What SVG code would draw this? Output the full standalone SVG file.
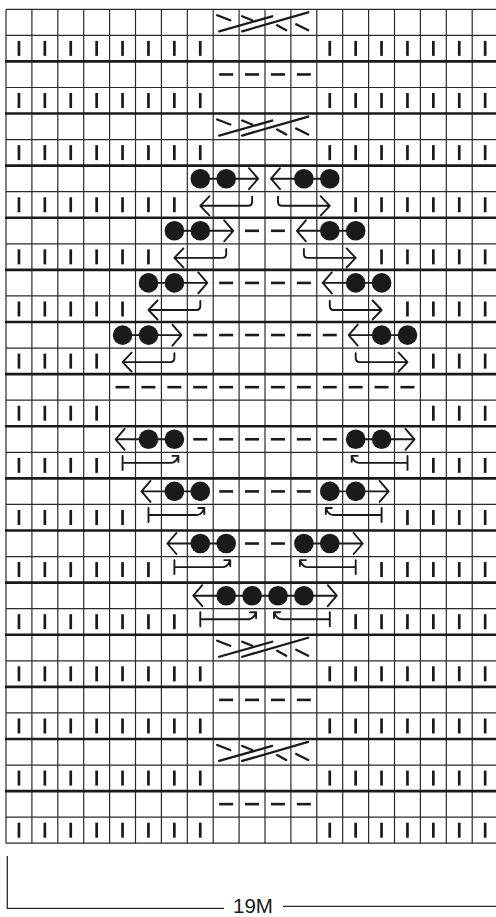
<svg xmlns="http://www.w3.org/2000/svg" xmlns:xlink="http://www.w3.org/1999/xlink" width="496" height="917" viewBox="0 0 496 917">
<style>
.thin{stroke:#2b2b2b;stroke-width:1.2;fill:none}
.thick{stroke:#1a1a1a;stroke-width:2.6;fill:none}
.tk{stroke:#1a1a1a;stroke-width:2.7;stroke-linecap:butt;fill:none}
.ds{stroke:#1a1a1a;stroke-width:2.6;fill:none}
.cb{stroke:#1a1a1a;stroke-width:2.3;stroke-linecap:round;fill:none}
.ar{stroke:#1a1a1a;stroke-width:1.9;fill:none;stroke-linecap:round;stroke-linejoin:round}
.dot{fill:#1a1a1a;stroke:none}
.lbl{font-family:"Liberation Sans",Arial,sans-serif;fill:#1a1a1a}
</style>
<defs>
<line id="t" x1="0" y1="-7.5" x2="0" y2="7.5"/>
<line id="m" x1="-7" y1="0" x2="7" y2="0"/>
<g id="k4"><use href="#t" x="18.95"/><use href="#t" x="44.85"/><use href="#t" x="70.75"/><use href="#t" x="96.65"/><use href="#t" x="433.35"/><use href="#t" x="459.25"/><use href="#t" x="485.15"/></g>
<g id="k5"><use href="#k4"/><use href="#t" x="122.55"/><use href="#t" x="407.45"/></g>
<g id="k6"><use href="#k5"/><use href="#t" x="148.45"/><use href="#t" x="381.55"/></g>
<g id="k7"><use href="#k6"/><use href="#t" x="174.35"/><use href="#t" x="355.65"/></g>
<g id="kf"><use href="#k7"/><use href="#t" x="200.25"/><use href="#t" x="329.75"/></g>
<g id="d2"><use href="#m" x="252.05"/><use href="#m" x="277.95"/></g>
<g id="d4"><use href="#d2"/><use href="#m" x="226.15"/><use href="#m" x="303.85"/></g>
<g id="d6"><use href="#d4"/><use href="#m" x="200.25"/><use href="#m" x="329.75"/></g>
<g id="cab"><path d="M217.2 6L230.2 11M219.2 22L272.2 7M242.2 7L252.2 11M242.2 22L308.2 3M277.2 16L286.2 21M296.2 15L308.2 21"/></g>
</defs>
<rect width="496" height="917" fill="#fff"/>
<g id="grid">
<path class="thin" d="M6 9.3V843.2M31.9 9.3V843.2M57.8 9.3V843.2M83.7 9.3V843.2M109.6 9.3V843.2M135.5 9.3V843.2M161.4 9.3V843.2M187.3 9.3V843.2M213.2 9.3V843.2M239.1 9.3V843.2M265 9.3V843.2M290.9 9.3V843.2M316.8 9.3V843.2M342.7 9.3V843.2M368.6 9.3V843.2M394.5 9.3V843.2M420.4 9.3V843.2M446.3 9.3V843.2M472.2 9.3V843.2"/>
<path class="thin" d="M6 9.3H498M6 35.36H498M6 87.48H498M6 139.6H498M6 191.72H498M6 243.84H498M6 295.96H498M6 348.08H498M6 400.2H498M6 452.32H498M6 504.44H498M6 556.56H498M6 608.68H498M6 660.8H498M6 712.92H498M6 765.04H498M6 817.16H498M6 843.22H498"/>
<path class="thick" d="M5 61.42H498M5 113.54H498M5 165.66H498M5 217.78H498M5 269.9H498M5 322.02H498M5 374.14H498M5 426.26H498M5 478.38H498M5 530.5H498M5 582.62H498M5 634.74H498M5 686.86H498M5 738.98H498M5 791.1H498"/>
</g>
<g id="knit-marks" class="tk">
<use href="#kf" y="48.39"/><use href="#kf" y="100.51"/><use href="#kf" y="152.63"/>
<use href="#k7" y="204.75"/><use href="#k6" y="256.87"/><use href="#k5" y="308.99"/><use href="#k4" y="361.11"/>
<use href="#k4" y="413.23"/>
<use href="#k4" y="465.35"/><use href="#k5" y="517.47"/><use href="#k6" y="569.59"/><use href="#k7" y="621.71"/>
<use href="#kf" y="673.83"/><use href="#kf" y="725.95"/><use href="#kf" y="778.07"/><use href="#kf" y="830.19"/>
</g>
<g id="purl-marks" class="ds">
<use href="#d4" y="74.45"/>
<use href="#d2" y="230.81"/><use href="#d4" y="282.93"/><use href="#d6" y="335.05"/>
<g transform="translate(0 387.17)"><use href="#d6"/><use href="#m" x="122.55"/><use href="#m" x="148.45"/><use href="#m" x="174.35"/><use href="#m" x="355.65"/><use href="#m" x="381.55"/><use href="#m" x="407.45"/></g>
<use href="#d6" y="439.29"/><use href="#d4" y="491.41"/><use href="#d2" y="543.53"/>
<use href="#d4" y="699.89"/><use href="#d4" y="804.13"/>
</g>
<g id="cables" class="cb">
<use href="#cab" y="9.3"/><use href="#cab" y="113.54"/><use href="#cab" y="634.74"/><use href="#cab" y="738.98"/>
</g>
<g id="connectors" class="ar">
<path d="M200.3 178.7H258.1M249 168.2L258.1 178.7L249 189.2M271 178.7H329.8M280 168.2L271 178.7L280 189.2"/>
<path d="M174.4 230.8H233.2M224.2 220.3L233.2 230.8L224.2 241.3M296.9 230.8H355.7M305.9 220.3L296.9 230.8L305.9 241.3"/>
<path d="M148.5 282.9H207.3M198.3 272.4L207.3 282.9L198.3 293.4M322.8 282.9H381.6M331.8 272.4L322.8 282.9L331.8 293.4"/>
<path d="M122.6 335.1H181.4M172.4 324.6L181.4 335.1L172.4 345.6M348.7 335.1H407.5M357.7 324.6L348.7 335.1L357.7 345.6"/>
<path d="M115.6 439.3H174.4M124.6 428.8L115.6 439.3L124.6 449.8M355.7 439.3H414.5M405.5 428.8L414.5 439.3L405.5 449.8"/>
<path d="M141.5 491.4H200.3M150.5 480.9L141.5 491.4L150.5 501.9M329.8 491.4H388.6M379.6 480.9L388.6 491.4L379.6 501.9"/>
<path d="M167.4 543.5H226.2M176.4 533L167.4 543.5L176.4 554M303.9 543.5H362.7M353.7 533L362.7 543.5L353.7 554"/>
<path d="M193.3 595.7H336.8M202.3 585.2L193.3 595.7L202.3 606.2M327.8 585.2L336.8 595.7L327.8 606.2"/>
<path d="M200.3 205.8H248.1Q252.1 205.8 252.1 201.8V196.8M209.3 196.3L200.3 205.8L209.3 215.3M278 196.8V201.8Q278 205.8 282 205.8H329.8M320.8 196.3L329.8 205.8L320.8 215.3"/>
<path d="M174.4 257.9H222.2Q226.2 257.9 226.2 253.9V248.9M183.4 248.4L174.4 257.9L183.4 267.4M303.9 248.9V253.9Q303.9 257.9 307.9 257.9H355.7M346.7 248.4L355.7 257.9L346.7 267.4"/>
<path d="M148.5 310H196.3Q200.3 310 200.3 306V301M157.5 300.5L148.5 310L157.5 319.5M329.8 301V306Q329.8 310 333.8 310H381.6M372.6 300.5L381.6 310L372.6 319.5"/>
<path d="M122.6 362.1H170.4Q174.4 362.1 174.4 358.1V353.1M131.6 352.6L122.6 362.1L131.6 371.6M355.7 353.1V358.1Q355.7 362.1 359.7 362.1H407.5M398.5 352.6L407.5 362.1L398.5 371.6"/>
<path d="M122.6 455.9V469.9M122.6 462.9H170.4Q175.4 462.9 177.4 457.9M172.4 455.9L178.4 455.9L178.4 461.9M407.5 455.9V469.9M407.5 462.9H359.7Q354.7 462.9 352.7 457.9M357.7 455.9L351.7 455.9L351.7 461.9"/>
<path d="M148.5 508V522M148.5 515H196.3Q201.3 515 203.3 510M198.3 508L204.3 508L204.3 514M381.6 508V522M381.6 515H333.8Q328.8 515 326.8 510M331.8 508L325.8 508L325.8 514"/>
<path d="M174.4 560.1V574.1M174.4 567.1H222.2Q227.2 567.1 229.2 562.1M224.2 560.1L230.2 560.1L230.2 566.1M355.7 560.1V574.1M355.7 567.1H307.9Q302.9 567.1 300.9 562.1M305.9 560.1L299.9 560.1L299.9 566.1"/>
<path d="M200.3 612.2V626.2M200.3 619.2H248.1Q253.1 619.2 255.1 614.2M250.1 612.2L256.1 612.2L256.1 618.2M329.8 612.2V626.2M329.8 619.2H282Q277 619.2 275 614.2M280 612.2L274 612.2L274 618.2"/>
</g>
<g id="dots" class="dot">
<circle cx="200.3" cy="178.7" r="9.8"/><circle cx="226.2" cy="178.7" r="9.8"/><circle cx="303.9" cy="178.7" r="9.8"/><circle cx="329.8" cy="178.7" r="9.8"/>
<circle cx="174.4" cy="230.8" r="9.8"/><circle cx="200.3" cy="230.8" r="9.8"/><circle cx="329.8" cy="230.8" r="9.8"/><circle cx="355.7" cy="230.8" r="9.8"/>
<circle cx="148.5" cy="282.9" r="9.8"/><circle cx="174.4" cy="282.9" r="9.8"/><circle cx="355.7" cy="282.9" r="9.8"/><circle cx="381.6" cy="282.9" r="9.8"/>
<circle cx="122.6" cy="335.1" r="9.8"/><circle cx="148.5" cy="335.1" r="9.8"/><circle cx="381.6" cy="335.1" r="9.8"/><circle cx="407.5" cy="335.1" r="9.8"/>
<circle cx="148.5" cy="439.3" r="9.8"/><circle cx="174.4" cy="439.3" r="9.8"/><circle cx="355.7" cy="439.3" r="9.8"/><circle cx="381.6" cy="439.3" r="9.8"/>
<circle cx="174.4" cy="491.4" r="9.8"/><circle cx="200.3" cy="491.4" r="9.8"/><circle cx="329.8" cy="491.4" r="9.8"/><circle cx="355.7" cy="491.4" r="9.8"/>
<circle cx="200.3" cy="543.5" r="9.8"/><circle cx="226.2" cy="543.5" r="9.8"/><circle cx="303.9" cy="543.5" r="9.8"/><circle cx="329.8" cy="543.5" r="9.8"/>
<circle cx="226.2" cy="595.7" r="9.8"/><circle cx="252.1" cy="595.7" r="9.8"/><circle cx="278" cy="595.7" r="9.8"/><circle cx="303.9" cy="595.7" r="9.8"/>
</g>
<g id="dimension">
<path class="thin" d="M7.3 856V908.3H224M283 906.3H496" style="stroke-width:1.3"/>
<text class="lbl" x="233" y="912.5" font-size="21" textLength="40" lengthAdjust="spacingAndGlyphs">19M</text>
</g>
</svg>
